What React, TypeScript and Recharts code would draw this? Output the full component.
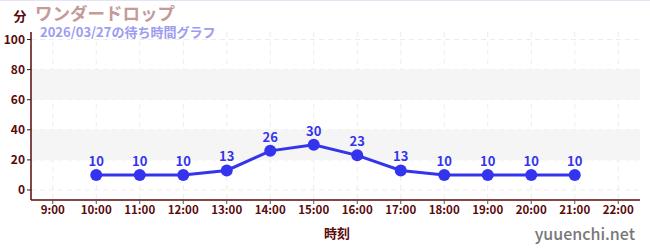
import React from "react";
import {
  LineChart,
  Line,
  XAxis,
  YAxis,
  CartesianGrid,
  ReferenceArea,
  LabelList,
} from "recharts";

const hours = [10, 11, 12, 13, 14, 15, 16, 17, 18, 19, 20, 21];
const waits = [10, 10, 10, 13, 26, 30, 23, 13, 10, 10, 10, 10];
const xTicks = [9, 10, 11, 12, 13, 14, 15, 16, 17, 18, 19, 20, 21, 22];
const yTicks = [0, 20, 40, 60, 80, 100];
const yMinorTicks = [10, 30, 50, 70, 90];
const bands: [number, number][] = [
  [20, 40],
  [60, 80],
];
const title = "ワンダードロップ";
const subtitle = "2026/03/27の待ち時間グラフ";
const unitLabel = "分";
const xLabel = "時刻";
const credit = "yuuenchi.net";

const data = hours.map((h, i) => ({ h, v: waits[i] }));

const FONT = "'Noto Sans CJK JP', 'Noto Sans', sans-serif";
const AXIS = "#5a0a0a";
const BLUE = "#3434ee";

export default function App() {
  return (
    <div style={{ position: "absolute", left: 0, top: 0, width: 650, height: 250, fontFamily: FONT }}>
      <LineChart
        width={650}
        height={250}
        data={data}
        margin={{ top: 32, right: 10, bottom: 20, left: 0 }}
      >
        {bands.map(([a, b]) => (
          <ReferenceArea
            key={a}
            yAxisId="l"
            y1={a}
            y2={b}
            fill="#f5f5f5"
            fillOpacity={1}
            stroke="none"
            ifOverflow="hidden"
          />
        ))}
        <CartesianGrid
          yAxisId="l"
          stroke="#ececec"
          strokeDasharray="5 4"
          horizontalValues={yTicks}
          verticalValues={xTicks}
        />
        <XAxis
          dataKey="h"
          type="number"
          domain={[8.5, 22.5]}
          ticks={xTicks}
          allowDataOverflow
          tickFormatter={(h: number) => `${h}:00`}
          height={30}
          tickSize={4}
          tickLine={{ stroke: "#555" }}
          axisLine={{ stroke: AXIS, strokeWidth: 1.5 }}
          tick={{ fill: AXIS, fontSize: 11.5, fontWeight: 600, fontFamily: FONT }}
          interval={0}
        />
        <YAxis
          yAxisId="l"
          type="number"
          domain={[-6.67, 105]}
          ticks={yTicks}
          allowDataOverflow
          width={31}
          tickSize={4}
          tickLine={{ stroke: "#222" }}
          axisLine={{ stroke: AXIS, strokeWidth: 1.5 }}
          tick={{ fill: AXIS, fontSize: 12, fontWeight: 600, fontFamily: FONT }}
          interval={0}
        />
        <YAxis
          yAxisId="minor"
          type="number"
          domain={[-6.67, 105]}
          ticks={yMinorTicks}
          allowDataOverflow
          width={0}
          tickSize={3}
          tickLine={{ stroke: "#dd2222" }}
          axisLine={false}
          tickFormatter={() => ""}
          interval={0}
        />
        <Line
          yAxisId="l"
          dataKey="v"
          type="linear"
          stroke={BLUE}
          strokeWidth={3}
          dot={{ r: 6, fill: BLUE, stroke: BLUE, strokeWidth: 0 }}
          activeDot={false}
          isAnimationActive={false}
        >
          <LabelList
            dataKey="v"
            position="top"
            offset={9}
            style={{ fill: BLUE, fontSize: 13, fontWeight: 700, fontFamily: FONT }}
          />
        </Line>
      </LineChart>
      <svg width={650} height={250} style={{ position: "absolute", left: 0, top: 0, pointerEvents: "none" }}>
        <rect x={0} y={0} width={650} height={1} fill="#e4e4f4" />
        <text x={20} y={21} textAnchor="middle" fill={AXIS} fontSize={13} fontWeight={700} fontFamily={FONT}>
          {unitLabel}
        </text>
        <text x={35} y={19.5} fill="#c49a9a" fontSize={17.5} fontWeight={700} fontFamily={FONT}>
          {title}
        </text>
        <text x={40} y={37} fill="#9c9cf0" fontSize={13} fontWeight={700} fontFamily={FONT}>
          {subtitle}
        </text>
        <text x={337} y={238} textAnchor="middle" fill={AXIS} fontSize={13} fontWeight={700} fontFamily={FONT}>
          {xLabel}
        </text>
        <text x={635} y={240} textAnchor="end" fill="#777" fontSize={16} fontWeight={500} fontFamily={FONT}>
          {credit}
        </text>
      </svg>
    </div>
  );
}
